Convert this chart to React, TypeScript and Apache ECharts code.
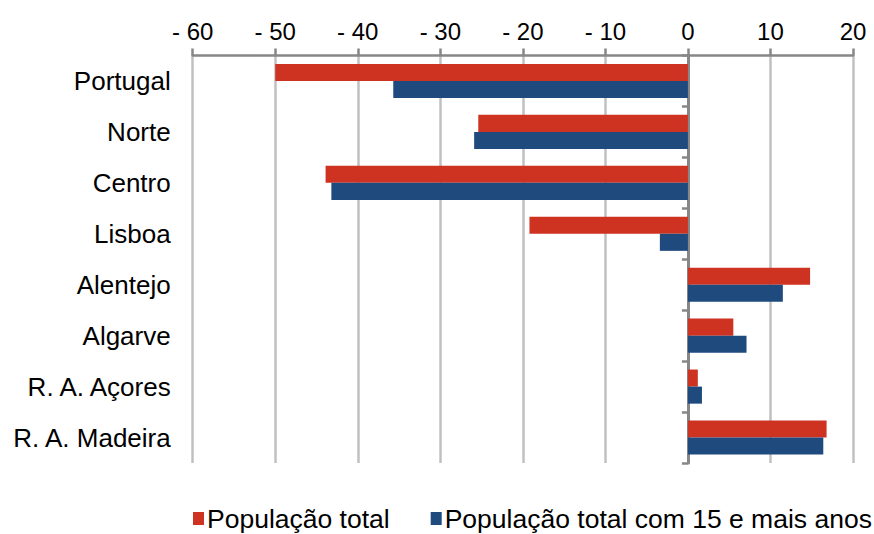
import React, { useEffect, useRef } from "react";
import * as echarts from "echarts";

const categories = ["Portugal", "Norte", "Centro", "Lisboa", "Alentejo", "Algarve", "R. A. Açores", "R. A. Madeira"];
const popTotal = [-50.0, -25.4, -43.9, -19.2, 14.8, 5.5, 1.2, 16.8];
const pop15 = [-35.7, -25.9, -43.2, -3.4, 11.5, 7.1, 1.7, 16.4];
const seriesNames = ["População total", "População total com 15 e mais anos"];

const FONT = "'Liberation Sans', Arial, sans-serif";

export default function App() {
  const ref = useRef<HTMLDivElement>(null);
  useEffect(() => {
    if (!ref.current) return;
    const chart = echarts.init(ref.current, undefined, { renderer: "svg" });
    chart.setOption({
      animation: false,
      backgroundColor: "#ffffff",
      textStyle: { fontFamily: FONT },
      grid: { left: 192.7, right: 21, top: 55.5, bottom: 71 },
      legend: {
        left: 193,
        bottom: 2,
        width: 681,
        padding: 0,
        itemWidth: 11,
        itemHeight: 13,
        itemGap: 41,
        icon: "rect",
        textStyle: { fontSize: 26.5, color: "#000", fontFamily: FONT, padding: [0, 0, 0, -2] },
        data: seriesNames,
      },
      xAxis: {
        type: "value",
        position: "top",
        min: -60,
        max: 20,
        interval: 10,
        axisLine: { show: true, lineStyle: { color: "#878787", width: 2.5 } },
        axisTick: { show: true, length: 7, lineStyle: { color: "#878787", width: 2.5 } },
        axisLabel: {
          fontSize: 24,
          color: "#000",
          fontFamily: FONT,
          margin: 12,
          formatter: (v: number) => (v < 0 ? "- " + Math.abs(v) : String(v)),
        },
        splitLine: { show: true, lineStyle: { color: "#c0c0c0", width: 2.5 } },
      },
      yAxis: [
        {
          type: "category",
          data: categories,
          inverse: true,
          position: "left",
          axisLine: { show: false, onZero: false },
          axisTick: { show: false },
          axisLabel: { fontSize: 26, color: "#000", fontFamily: FONT, margin: 22 },
        },
        {
          type: "category",
          data: categories,
          inverse: true,
          position: "left",
          axisLine: { show: true, onZero: true, lineStyle: { color: "#878787", width: 3 } },
          axisTick: { show: true, length: 6, lineStyle: { color: "#878787", width: 2.5 } },
          axisLabel: { show: false },
        },
      ],
      series: [
        {
          name: seriesNames[0],
          type: "bar",
          data: popTotal,
          yAxisIndex: 0,
          barGap: "0%",
          barCategoryGap: "33%",
          itemStyle: { color: "#CE3322" },
        },
        {
          name: seriesNames[1],
          type: "bar",
          data: pop15,
          yAxisIndex: 0,
          barGap: "0%",
          barCategoryGap: "33%",
          itemStyle: { color: "#1F4A7E" },
        },
      ],
    });
    return () => chart.dispose();
  }, []);
  return (
    <div
      ref={ref}
      style={{ position: "absolute", left: 0, top: 0, width: 874, height: 534 }}
    />
  );
}
